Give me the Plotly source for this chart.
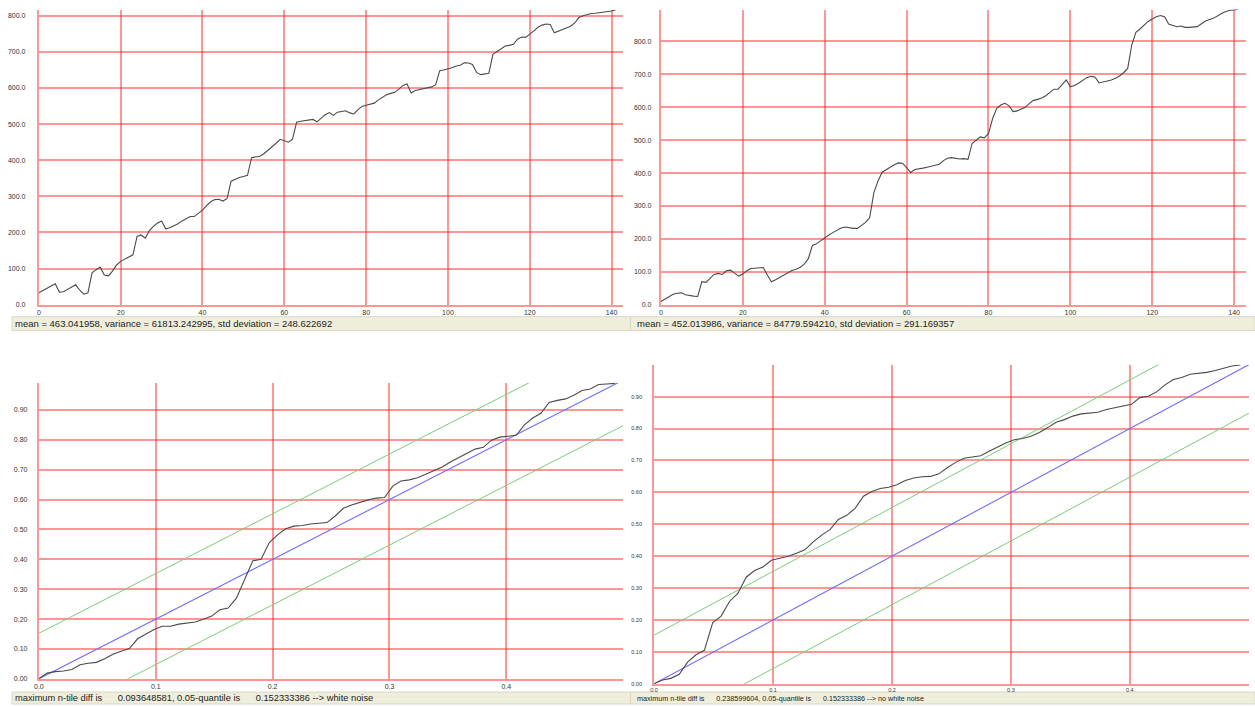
import plotly.graph_objects as go

W, H = 1255, 707

# ---------------- data ----------------
series_a = [33, 40, 46, 52, 58, 35, 36, 42, 50, 55, 40, 29, 33, 88, 97, 104, 82, 80, 93, 110,
            120, 126, 132, 138, 189, 193, 184, 205, 217, 226, 232, 210, 213, 218, 224, 232, 238, 244, 244, 252,
            262, 274, 285, 291, 292, 287, 294, 342, 348, 352, 355, 358, 407, 410, 411, 418, 427, 437, 447, 458,
            453, 450, 458, 505, 508, 509, 511, 513, 506, 515, 526, 532, 524, 533, 535, 537, 531, 528, 540, 549,
            552, 556, 558, 567, 575, 581, 585, 588, 597, 607, 611, 586, 593, 595, 597, 600, 603, 609, 648, 650,
            652, 656, 661, 663, 670, 669, 665, 643, 637, 640, 641, 693, 700, 707, 716, 718, 721, 735, 741, 740,
            748, 758, 768, 774, 777, 776, 753, 758, 762, 766, 771, 780, 795, 800, 804, 806, 807, 808, 810, 811,
            813, 816]

series_b = [10, 17, 25, 32, 35, 36, 30, 27, 26, 25, 70, 68, 80, 92, 95, 92, 103, 105, 96, 87,
            93, 103, 110, 111, 112, 113, 90, 70, 76, 83, 91, 99, 104, 108, 113, 123, 140, 180, 185, 194,
            204, 212, 219, 227, 233, 236, 233, 232, 232, 240, 250, 265, 340, 375, 402, 410, 418, 425, 431, 430,
            417, 402, 411, 412, 415, 418, 421, 422, 427, 438, 445, 447, 445, 443, 444, 442, 490, 500, 510, 507,
            520, 565, 596, 607, 612, 605, 587, 589, 595, 600, 612, 621, 624, 628, 635, 644, 655, 655, 670, 683,
            662, 666, 673, 682, 690, 694, 692, 674, 677, 679, 683, 688, 695, 705, 718, 790, 828, 838, 850, 861,
            868, 875, 879, 875, 853, 849, 845, 847, 843, 843, 843, 845, 854, 862, 867, 871, 878, 886, 891, 895,
            896, 897]

t_a = list(range(len(series_a)))
t_b = list(range(len(series_b)))

cum_a = [0.000, 0.019, 0.024, 0.026, 0.031, 0.047, 0.052, 0.055, 0.067, 0.082,
         0.092, 0.101, 0.134, 0.149, 0.165, 0.176, 0.176, 0.183, 0.186, 0.190,
         0.199, 0.210, 0.231, 0.237, 0.270, 0.330, 0.395, 0.400, 0.456, 0.482,
         0.502, 0.511, 0.513, 0.518, 0.520, 0.523, 0.545, 0.571, 0.582, 0.591,
         0.599, 0.605, 0.607, 0.645, 0.662, 0.666, 0.673, 0.685, 0.697, 0.709,
         0.726, 0.741, 0.755, 0.769, 0.775, 0.799, 0.809, 0.812, 0.815, 0.850,
         0.873, 0.889, 0.925, 0.932, 0.937, 0.949, 0.965, 0.970, 0.985, 0.987,
         0.989]

cum_b = [0.000, 0.012, 0.017, 0.030, 0.068, 0.091, 0.105, 0.192, 0.212, 0.258,
         0.283, 0.334, 0.355, 0.366, 0.387, 0.393, 0.400, 0.409, 0.420, 0.445,
         0.466, 0.483, 0.515, 0.528, 0.550, 0.588, 0.603, 0.612, 0.616, 0.624,
         0.637, 0.645, 0.649, 0.650, 0.658, 0.677, 0.694, 0.707, 0.712, 0.715,
         0.729, 0.742, 0.755, 0.765, 0.769, 0.776, 0.788, 0.803, 0.820, 0.828,
         0.839, 0.846, 0.848, 0.851, 0.860, 0.866, 0.870, 0.876, 0.897, 0.901,
         0.915, 0.937, 0.954, 0.960, 0.970, 0.973, 0.976, 0.982, 0.990, 0.996,
         0.999]

freq = [k / 142 for k in range(len(cum_a))]

diag_x = [0.0, 0.5]
diag_y = [0.0, 1.0]
quantile_band = 0.152333386

ts_xticks = [0, 20, 40, 60, 80, 100, 120, 140]
ts_yticks = [0, 100, 200, 300, 400, 500, 600, 700, 800]
cp_xticks = [0.0, 0.1, 0.2, 0.3, 0.4]
cp_yticks = [0.0, 0.1, 0.2, 0.3, 0.4, 0.5, 0.6, 0.7, 0.8, 0.9]

status_texts = [
    "mean = 463.041958, variance = 61813.242995, std deviation = 248.622692",
    "mean = 452.013986, variance = 84779.594210, std deviation = 291.169357",
    "maximum n-tile diff is" + "\u00a0" * 6 + "0.093648581, 0.05-quantile is" + "\u00a0" * 6 + "0.152333386 --> white noise",
    "maximum n-tile diff is" + "\u00a0" * 6 + "0.238599604, 0.05-quantile is" + "\u00a0" * 6 + "0.152333386 --> no white noise",
]

# ---------------- styling / layout helpers ----------------
FONT = "Liberation Sans, Arial, sans-serif"
GRID = "rgba(255,45,45,0.5)"
LINE = "#4a4a4a"
BLUE = "rgb(110,110,255)"
GREEN = "rgb(120,205,120)"


def xd(a, b):
    return [a / W, b / W]


def yd(top, bottom):
    return [1 - bottom / H, 1 - top / H]


fig = go.Figure()

fig.add_trace(go.Scatter(x=t_a, y=series_a, mode="lines", line=dict(color=LINE, width=1.1),
                         xaxis="x", yaxis="y", showlegend=False))
fig.add_trace(go.Scatter(x=t_b, y=series_b, mode="lines", line=dict(color=LINE, width=1.1),
                         xaxis="x2", yaxis="y2", showlegend=False))
for cum, xa, ya in [(cum_a, "x3", "y3"), (cum_b, "x4", "y4")]:
    fig.add_trace(go.Scatter(x=diag_x, y=[v + quantile_band for v in diag_y], mode="lines",
                             line=dict(color=GREEN, width=1), xaxis=xa, yaxis=ya, showlegend=False))
    fig.add_trace(go.Scatter(x=diag_x, y=[v - quantile_band for v in diag_y], mode="lines",
                             line=dict(color=GREEN, width=1), xaxis=xa, yaxis=ya, showlegend=False))
    fig.add_trace(go.Scatter(x=diag_x, y=diag_y, mode="lines",
                             line=dict(color=BLUE, width=1.1), xaxis=xa, yaxis=ya, showlegend=False))
    fig.add_trace(go.Scatter(x=freq, y=cum, mode="lines", line=dict(color=LINE, width=1.1),
                             xaxis=xa, yaxis=ya, showlegend=False))


def ax(domain, rng, tickvals, fmt, size, anchor, standoff):
    return dict(domain=domain, range=rng, tickmode="array", tickvals=tickvals, tickformat=fmt,
                showgrid=True, gridcolor=GRID, gridwidth=2, zeroline=False,
                showline=True, linecolor=GRID, linewidth=2, ticks="",
                tickfont=dict(family=FONT, size=size, color="#333333"),
                anchor=anchor, fixedrange=True, ticklabelstandoff=standoff)


fig.update_layout(
    width=W, height=H, margin=dict(l=0, r=0, t=0, b=0),
    paper_bgcolor="white", plot_bgcolor="white", showlegend=False,
    xaxis=ax(xd(34, 620.7), [0, 142.85], ts_xticks, "d", 7, "y", 0),
    yaxis=ax(yd(10.0, 306), [0, 816], ts_yticks, ".1f", 7, "x", 10),
    xaxis2=ax(xd(658.5, 1246), [0, 142.9], ts_xticks, "d", 7, "y2", 0),
    yaxis2=ax(yd(9.6, 306), [0, 897], ts_yticks, ".1f", 7, "x2", 6),
    xaxis3=ax(xd(34, 620.7), [0, 0.5], cp_xticks, ".1f", 7, "y3", 0),
    yaxis3=ax(yd(384.7, 681.7), [0, 0.99], cp_yticks, ".2f", 7, "x3", 8),
    xaxis4=ax(xd(651.7, 1249.3), [0, 0.5005], cp_xticks, ".1f", 5.5, "y4", 0),
    yaxis4=ax(yd(366.3, 686.7), [0, 1.0], cp_yticks, ".2f", 5.5, "x4", 9),
)

bars = [(7, 318, 628, 332, 8, 9.5), (628, 318, 1255, 332, 633, 9.5),
        (7, 695, 628, 707, 8, 9.3), (628, 695, 1255, 707, 633, 7.2)]
shapes = []
annotations = []
for (x0, y0, x1, y1, tx, fs), txt in zip(bars, status_texts):
    shapes.append(dict(type="rect", xref="paper", yref="paper", x0=x0 / W, x1=x1 / W,
                       y0=1 - y1 / H, y1=1 - y0 / H, fillcolor="#efeedd",
                       line=dict(color="#d9d7c4", width=1), layer="below"))
    annotations.append(dict(xref="paper", yref="paper", x=tx / W, y=1 - ((y0 + y1) / 2) / H,
                            xanchor="left", yanchor="middle", showarrow=False, text=txt,
                            font=dict(family=FONT, size=fs, color="#222222")))
fig.update_layout(shapes=shapes, annotations=annotations)

fig.write_html("out.html")
